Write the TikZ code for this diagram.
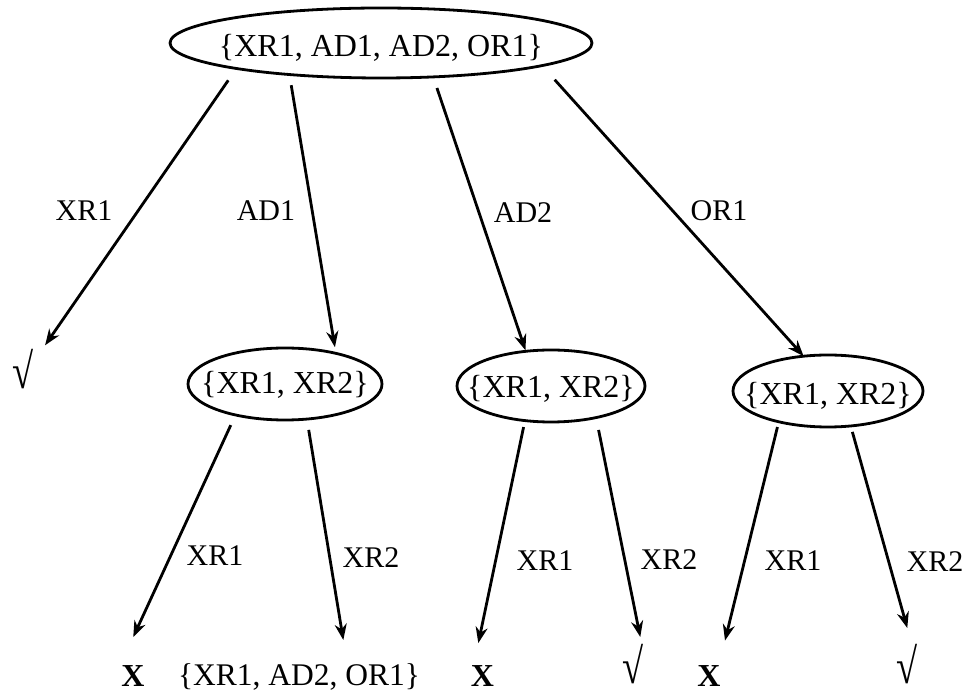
\documentclass[tikz,border=0pt]{standalone}
\usepackage{fontspec}
\setmainfont{Liberation Serif}
\usetikzlibrary{shapes.geometric,arrows.meta}
% text placed inside a node: zero size, baseline shifted by #1
\newcommand\intext[2]{\makebox[0pt]{\smash{\raisebox{#1}{#2}}}}
% tall check sign used for accepted leaves, baseline shifted by #1
\newcommand\okmarkat[1]{\intext{#1}{\scalebox{1.2}[1.55]{√}}}
\newcommand\okmark{\okmarkat{-6pt}}
\begin{document}
\begin{tikzpicture}[x=0.5pt,y=-0.5pt,
  every node/.style={inner sep=0pt, outer sep=0pt},
  font=\fontsize{16}{19}\selectfont,
  setnode/.style={ellipse, draw, line width=1.4pt},
  leaf/.style={minimum width=12pt, minimum height=20pt},
  lab/.style={font=\fontsize{15}{18}\selectfont},
  arr/.style={-{Stealth[length=8pt,width=6pt]}, line width=1.4pt}]
\useasboundingbox (0,0) rectangle (969,694);

% set nodes
\node[setnode, minimum width=211pt, minimum height=35pt] (top) at (381,43)
  {\intext{-7pt}{\{XR1, AD1, AD2, OR1\}}};
\node[setnode, minimum width=97pt, minimum height=36pt] (e1) at (285,384)
  {\intext{-5pt}{\{XR1, XR2\}}};
\node[setnode, minimum width=94pt, minimum height=36pt] (e2) at (551,386)
  {\intext{-6pt}{\{XR1, XR2\}}};
\node[setnode, minimum width=95pt, minimum height=36pt] (e3) at (828,391)
  {\intext{-7pt}{\{XR1, XR2\}}};

% leaves
\node[leaf] (chk0) at (23,377) {\okmark};
\node[leaf] (x1) at (133,676) {\textbf{X}};
\node[leaf, font=\fontsize{15.75}{19}\selectfont] (set1) at (299,677) {\{XR1, AD2, OR1\}};
\node[leaf] (x2) at (482.5,676) {\textbf{X}};
\node[leaf] (chk2) at (633,671.5) {\okmark};
\node[leaf] (x3) at (709,676) {\textbf{X}};
\node[leaf] (chk3) at (907,674.5) {\okmarkat{-4.5pt}};

% edge labels
\node[lab] (l1) at (84,211) {XR1};
\node[lab] (l2) at (266,211) {AD1};
\node[lab] (l3) at (523,213) {AD2};
\node[lab] (l4) at (719,211) {OR1};
\node[lab] (m1) at (215,556) {XR1};
\node[lab] (m2) at (371,558) {XR2};
\node[lab] (m3) at (545,561) {XR1};
\node[lab] (m4) at (669,560) {XR2};
\node[lab] (m5) at (793,561) {XR1};
\node[lab] (m6) at (935,562) {XR2};

% connectors
\draw[arr, shorten <=7.2pt, shorten >=8.85pt] (top.-170.3) -- (chk0.55.4);
\draw[arr, shorten <=5.4pt, shorten >=3.1pt] (top.-161.5) -- (e1.31.7);
\draw[arr, shorten <=5.85pt, shorten >=0.5pt] (top.-33) -- (e2.126.35);
\draw[arr, shorten <=9.5pt] (top.-8.2) -- (e3.125.15);
\draw[arr, shorten <=5.6pt, shorten >=10.45pt] (e1.-148.55) -- (x1.113.5);
\draw[arr, shorten <=5.5pt, shorten >=8.6pt] (e1.-58.9) -- (set1.23.1);
\draw[arr, shorten <=3.3pt, shorten >=6.6pt] (e2.-127.6) -- (x2.109.8);
\draw[arr, shorten <=6.3pt, shorten >=7.4pt] (e2.-35.5) -- (chk2.63.7);
\draw[arr, shorten <=2.7pt, shorten >=8.35pt] (e3.-148.3) -- (x3.58.8);
\draw[arr, shorten <=3.1pt, shorten >=13.75pt] (e3.-57.5) -- (chk3.69.7);
\end{tikzpicture}
\end{document}
